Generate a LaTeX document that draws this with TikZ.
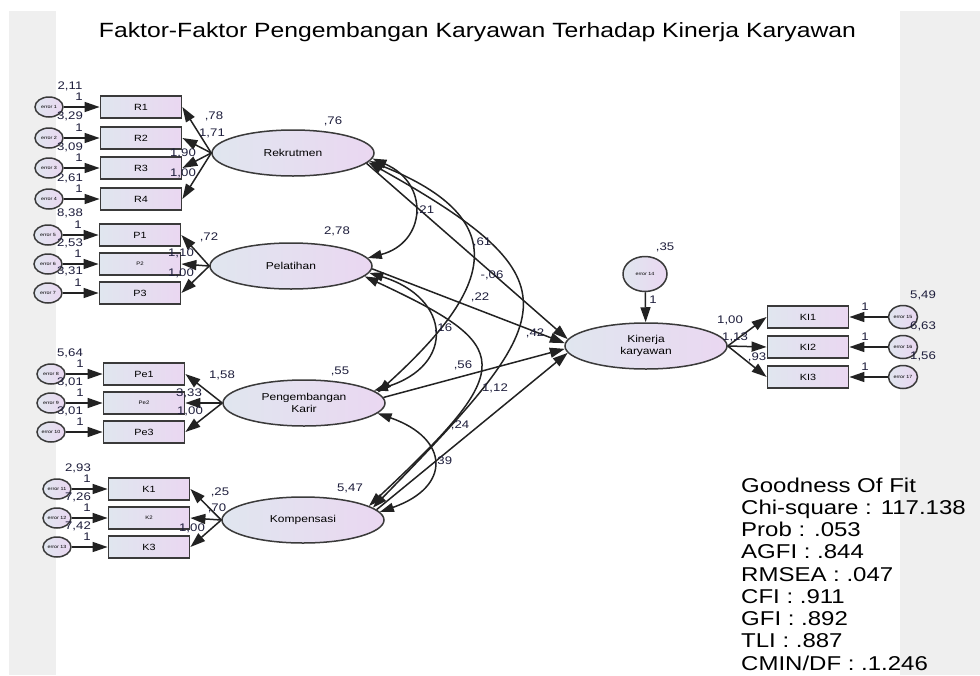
\documentclass[tikz,border=0pt]{standalone}
\usepackage{fontspec}
\setmainfont{Liberation Sans}[FakeStretch=1.2]
\usetikzlibrary{shapes.geometric,arrows.meta}
\definecolor{PanelGray}{HTML}{EFEFEF}
\definecolor{FillLeft}{HTML}{E0E6EF}
\definecolor{FillRight}{HTML}{EAD7F1}
\definecolor{LineInk}{HTML}{222222}
\definecolor{BorderInk}{HTML}{3A3A3A}
\definecolor{NumInk}{HTML}{1E1E3C}

\begin{document}
\begin{tikzpicture}[
	x=1pt, y=-1pt, % one unit is one pixel, y runs downwards
	% Style for the latent variables
	latent node/.style={
		ellipse,
		draw=BorderInk,
		left color=FillLeft,   % gradient from blue-grey
		right color=FillRight, % to lavender
		line width=1.5pt,
		minimum width=162pt,
		minimum height=46pt,
		inner sep=0pt,
		align=center,
		font=\fontsize{10}{12}\selectfont
	},
	% Style for the observed indicators
	item node/.style={
		rectangle,
		draw=BorderInk,
		left color=FillLeft,
		right color=FillRight,
		line width=1.8pt,
		minimum width=81pt,
		minimum height=22pt,
		inner sep=0pt,
		font=\fontsize{9}{9}\selectfont
	},
	% Style for the error terms
	error node/.style={
		ellipse,
		draw=BorderInk,
		left color=FillLeft,
		right color=FillRight,
		line width=1.5pt,
		minimum width=28pt,
		minimum height=20pt,
		inner sep=0pt,
		font=\fontsize{4.5}{5}\selectfont
	},
	% Style for the estimates
	num label/.style={
		text=NumInk,
		inner sep=0pt,
		font=\fontsize{11}{11}\selectfont
	},
	% Style for the one-headed paths
	load edge/.style={
		draw=LineInk,
		line width=1.5pt,
		-{Triangle[length=15pt,width=10pt]}
	},
	% Style for the covariances
	cov edge/.style={
		draw=LineInk,
		line width=1.5pt,
		{Triangle[length=14pt,width=9pt]}-{Triangle[length=14pt,width=9pt]}
	}
	]
	
	% 0. Page and side panels
	\fill[white] (0,0) rectangle (980,675);
	\useasboundingbox (0,0) rectangle (980,675);
	\fill[PanelGray] (9,11) rectangle (56,675);
	\fill[PanelGray] (900,11) rectangle (980,675);
	
	\node[anchor=base, font=\fontsize{20.6}{22}\selectfont, text=black] (title) at (477.5,37) {Faktor-Faktor Pengembangan Karyawan Terhadap Kinerja Karyawan};
	
	% 1. Latent variables
	\node[latent node] (rekrut) at (293,153) {Rekrutmen};
	\node[latent node] (pelatih) at (291,266) {Pelatihan};
	\node[latent node] (karir) at (304,403) {Pengembangan\\Karir};
	\node[latent node] (kompen) at (303,520) {Kompensasi};
	\node[latent node] (kinerja) at (646,346) {Kinerja\\karyawan};
	
	% 2. Indicators
	% Rekrutmen
	\node[item node] (r1) at (141,107) {R1};
	\node[item node] (r2) at (141,138) {R2};
	\node[item node] (r3) at (141,168) {R3};
	\node[item node] (r4) at (141,199) {R4};
	% Pelatihan
	\node[item node] (p1) at (140,235) {P1};
	\node[item node, font=\fontsize{5}{5}\selectfont] (p2) at (140,264) {P2};
	\node[item node] (p3) at (140,293) {P3};
	% Pengembangan Karir
	\node[item node] (pe1) at (144,374) {Pe1};
	\node[item node, font=\fontsize{5}{5}\selectfont] (pe2) at (144,403) {Pe2};
	\node[item node] (pe3) at (144,432) {Pe3};
	% Kompensasi
	\node[item node] (k1) at (149,489) {K1};
	\node[item node, font=\fontsize{5}{5}\selectfont] (k2) at (149,518) {K2};
	\node[item node] (k3) at (149,547) {K3};
	% Kinerja karyawan
	\node[item node] (ki1) at (808,317) {KI1};
	\node[item node] (ki2) at (808,347) {KI2};
	\node[item node] (ki3) at (808,377) {KI3};
	
	% 3. Error terms
	\node[error node] (e1) at (49,107) {error 1};
	\node[error node] (e2) at (49,138) {error 2};
	\node[error node] (e3) at (49,168) {error 3};
	\node[error node] (e4) at (49,199) {error 4};
	\node[error node] (e5) at (48,235) {error 5};
	\node[error node] (e6) at (48,264) {error 6};
	\node[error node] (e7) at (48,293) {error 7};
	\node[error node] (e8) at (51,374) {error 8};
	\node[error node] (e9) at (51,403) {error 9};
	\node[error node] (e10) at (51,432) {error 10};
	\node[error node] (e11) at (57,489) {error 11};
	\node[error node] (e12) at (57,518) {error 12};
	\node[error node] (e13) at (57,547) {error 13};
	\node[error node, minimum width=44pt, minimum height=35pt] (e14) at (645,274) {error 14};
	\node[error node, minimum width=29pt, minimum height=23pt] (e15) at (903,317) {error 15};
	\node[error node, minimum width=29pt, minimum height=23pt] (e16) at (903,347) {error 16};
	\node[error node, minimum width=29pt, minimum height=23pt] (e17) at (903,377) {error 17};
	
	% 4. Edges from the error terms
	\draw[load edge] (e1) -- (r1);
	\draw[load edge] (e2) -- (r2);
	\draw[load edge] (e3) -- (r3);
	\draw[load edge] (e4) -- (r4);
	\draw[load edge] (e5) -- (p1);
	\draw[load edge] (e6) -- (p2);
	\draw[load edge] (e7) -- (p3);
	\draw[load edge] (e8) -- (pe1);
	\draw[load edge] (e9) -- (pe2);
	\draw[load edge] (e10) -- (pe3);
	\draw[load edge] (e11) -- (k1);
	\draw[load edge] (e12) -- (k2);
	\draw[load edge] (e13) -- (k3);
	\draw[load edge] (e14) -- (kinerja);
	\draw[load edge] (e15) -- (ki1);
	\draw[load edge] (e16) -- (ki2);
	\draw[load edge] (e17) -- (ki3);
	
	% 5. Loadings
	\draw[load edge] (rekrut.west) -- (r1.east);
	\draw[load edge] (rekrut.west) -- (r2.east);
	\draw[load edge] (rekrut.west) -- (r3.east);
	\draw[load edge] (rekrut.west) -- (r4.east);
	\draw[load edge] (pelatih.west) -- (p1.east);
	\draw[load edge] (pelatih.west) -- (p2.east);
	\draw[load edge] (pelatih.west) -- (p3.east);
	\draw[load edge] (karir.west) -- (pe1.east);
	\draw[load edge] (karir.west) -- (pe2.east);
	\draw[load edge] (karir.west) -- (pe3.east);
	\draw[load edge] (kompen.west) -- (k1.east);
	\draw[load edge] (kompen.west) -- (k2.east);
	\draw[load edge] (kompen.west) -- (k3.east);
	\draw[load edge] (kinerja.east) -- (ki1.west);
	\draw[load edge] (kinerja.east) -- (ki2.west);
	\draw[load edge] (kinerja.east) -- (ki3.west);
	
	% 6. Covariances between the factors
	\draw[cov edge] (rekrut.-4) .. controls +(58,25) and +(58,-15) .. (pelatih.6);
	\draw[cov edge] (rekrut.-6) .. controls +(150,60) and +(110,-100) .. (karir.8);
	\draw[cov edge] (rekrut.-7) .. controls +(215,120) and +(185,-190) .. (kompen.10);
	\draw[cov edge] (pelatih.-5) .. controls +(82,25) and +(82,-25) .. (karir.10);
	\draw[cov edge] (pelatih.-8) .. controls +(150,70) and +(150,-140) .. (kompen.12);
	\draw[cov edge] (karir.-8) .. controls +(72,25) and +(72,-25) .. (kompen.6);
	
	% 7. Paths to Kinerja karyawan
	\draw[load edge] (rekrut.-8) -- (kinerja.175);
	\draw[load edge] (pelatih.-2) -- (kinerja.178);
	\draw[load edge] (karir.4) -- (kinerja.182);
	\draw[load edge] (kompen.8) -- (kinerja.185);
	
	% 8. Estimates
	% Variances of the error terms
	\node[num label] (var_e1) at (70,86) {2,11};
	\node[num label] (var_e2) at (70,116) {3,29};
	\node[num label] (var_e3) at (70,147) {3,09};
	\node[num label] (var_e4) at (70,178) {2,61};
	\node[num label] (var_e5) at (70,213) {8,38};
	\node[num label] (var_e6) at (70,243) {2,53};
	\node[num label] (var_e7) at (70,271) {3,31};
	\node[num label] (var_e8) at (70,353) {5,64};
	\node[num label] (var_e9) at (70,382) {3,01};
	\node[num label] (var_e10) at (70,411) {3,01};
	\node[num label] (var_e11) at (78,468) {2,93};
	\node[num label] (var_e12) at (78,497) {7,26};
	\node[num label] (var_e13) at (78,526) {7,42};
	\node[num label] (var_e14) at (665,247) {,35};
	\node[num label] (var_e15) at (923,295) {5,49};
	\node[num label] (var_e16) at (923,326) {6,63};
	\node[num label] (var_e17) at (923,356) {1,56};
	% Fixed weights of the error terms
	\node[num label] (one_e1) at (79,97) {1};
	\node[num label] (one_e2) at (79,128) {1};
	\node[num label] (one_e3) at (79,158) {1};
	\node[num label] (one_e4) at (79,189) {1};
	\node[num label] (one_e5) at (78,225) {1};
	\node[num label] (one_e6) at (78,254) {1};
	\node[num label] (one_e7) at (78,283) {1};
	\node[num label] (one_e8) at (80,364) {1};
	\node[num label] (one_e9) at (80,393) {1};
	\node[num label] (one_e10) at (80,422) {1};
	\node[num label] (one_e11) at (87,479) {1};
	\node[num label] (one_e12) at (87,508) {1};
	\node[num label] (one_e13) at (87,537) {1};
	\node[num label] (one_e14) at (653,300) {1};
	\node[num label] (one_e15) at (865,307) {1};
	\node[num label] (one_e16) at (865,337) {1};
	\node[num label] (one_e17) at (865,367) {1};
	% Loadings
	\node[num label] (ld_r1) at (214,116) {,78};
	\node[num label] (ld_r2) at (212,133) {1,71};
	\node[num label] (ld_r3) at (183,153) {1,90};
	\node[num label] (ld_r4) at (183,173) {1,00};
	\node[num label] (ld_p1) at (209,237) {,72};
	\node[num label] (ld_p2) at (181,253) {1,10};
	\node[num label] (ld_p3) at (181,273) {1,00};
	\node[num label] (ld_pe1) at (222,375) {1,58};
	\node[num label] (ld_pe2) at (189,393) {3,33};
	\node[num label] (ld_pe3) at (190,411) {1,00};
	\node[num label] (ld_k1) at (220,492) {,25};
	\node[num label] (ld_k2) at (217,508) {,70};
	\node[num label] (ld_k3) at (192,528) {1,00};
	\node[num label] (ld_ki1) at (730,320) {1,00};
	\node[num label] (ld_ki2) at (735,337) {1,13};
	\node[num label] (ld_ki3) at (757,357) {,93};
	% Variances of the factors
	\node[num label] (var_rekrut) at (333,121) {,76};
	\node[num label] (var_pelatih) at (337,231) {2,78};
	\node[num label] (var_karir) at (340,371) {,55};
	\node[num label] (var_kompen) at (350,488) {5,47};
	% Structural estimates
	\node[num label] (est_a) at (425,210) {,21};
	\node[num label] (est_b) at (482,242) {,61};
	\node[num label] (est_c) at (492,275) {-,06};
	\node[num label] (est_d) at (480,297) {,22};
	\node[num label] (est_e) at (443,328) {,16};
	\node[num label] (est_f) at (535,333) {,42};
	\node[num label] (est_g) at (463,365) {,56};
	\node[num label] (est_h) at (495,388) {1,12};
	\node[num label] (est_i) at (460,425) {,24};
	\node[num label] (est_j) at (443,461) {,39};
	
	% 9. Goodness of fit
	\node[anchor=north west, align=left, inner sep=0pt, text=black,
		font=\fontsize{20}{22.25}\selectfont] (gof) at (741,477.5)
		{Goodness Of Fit\\Chi-square : 117.138\\Prob : .053\\AGFI : .844\\RMSEA : .047\\CFI : .911\\GFI : .892\\TLI : .887\\CMIN/DF : .1.246};
	
\end{tikzpicture}
\end{document}
